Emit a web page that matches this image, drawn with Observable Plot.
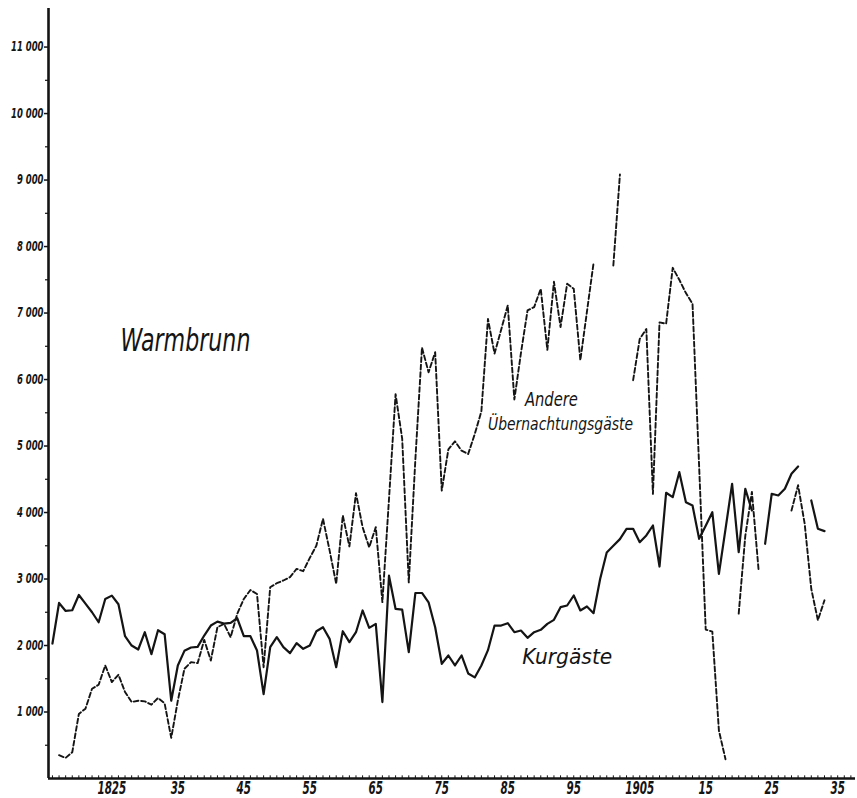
<!DOCTYPE html>
<html><head><meta charset="utf-8">
<script src="https://cdn.jsdelivr.net/npm/d3@7"></script>
<script src="https://cdn.jsdelivr.net/npm/@observablehq/plot@0.6"></script>
<style>
html,body{margin:0;padding:0;background:#fff;}
#chart svg{display:block;}
</style></head><body><div id="chart"></div>
<script>
const firstYear = 1816;
// Kurgäste (solid line), one value per year from 1816
const kurgaeste = [
2030,2640,2520,2530,2760,2630,2500,2350,2700,2750, // 1816-1825
2620,2140,2000,1940,2200,1870,2230,2170,1170,1700, // 1826-1835
1920,1970,1980,2150,2300,2360,2330,2340,2410,2140, // 1836-1845
2140,1925,1270,1975,2125,1975,1885,2035,1950,2000, // 1846-1855
2215,2275,2100,1674,2215,2050,2200,2527,2266,2326, // 1856-1865
1150,3050,2550,2540,1900,2790,2790,2650,2275,1725, // 1866-1875
1850,1700,1850,1580,1520,1700,1930,2300,2300,2336, // 1876-1885
2200,2226,2116,2200,2236,2326,2386,2577,2602,2752, // 1886-1895
2527,2587,2486,3000,3400,3500,3600,3755,3755,3554, // 1896-1905
3655,3805,3188,4297,4231,4607,4156,4106,3605,3800, // 1906-1915
4005,3078,3750,4432,3403,4357,4030,null,3530,4282, // 1916-1925
4256,4357,4583,4692,null,4181,3755,3720            // 1926-1933
];
// Andere Übernachtungsgäste (dashed line), one value per year from 1816
const andere = [
null,350,310,395,970,1050,1350,1410,1700,1450,       // 1816-1825
1560,1300,1150,1170,1160,1110,1210,1130,610,1170,    // 1826-1835
1650,1750,1735,2085,1775,2275,2326,2125,2476,2700,   // 1836-1845
2835,2775,1674,2877,2937,2978,3028,3153,3118,3318,   // 1846-1855
3504,3905,3430,2928,3955,3490,4291,3780,3477,3780,   // 1856-1865
2652,4200,5780,5110,2950,4800,6480,6110,6410,4330,   // 1866-1875
4950,5070,4930,4880,5180,5520,6910,6390,6750,7115,   // 1876-1885
5700,6400,7040,7090,7365,6446,7470,6790,7440,7365,   // 1886-1895
6290,7020,7750,null,null,7715,9084,null,5990,6610,   // 1896-1905
6760,4280,6860,6840,7680,7500,7300,7140,4700,2240,   // 1906-1915
2210,720,290,null,2480,3650,4310,3150,null,null,     // 1916-1925
null,null,4030,4410,3830,2850,2380,2680              // 1926-1933
];
const yTickValues = [1000,2000,3000,4000,5000,6000,7000,8000,9000,10000,11000];
const xTickYears = [1825,1835,1845,1855,1865,1875,1885,1895,1905,1915,1925,1935];
const xTickLabels = ["1825","35","45","55","65","75","85","95","1905","15","25","35"];
const annotations = [
  {text: "Warmbrunn", year: 1826.3, value: 6590},
  {text: "Andere", year: 1887.6, value: 5700},
  {text: "Übernachtungsgäste", year: 1882.0, value: 5330},
  {text: "Kurgäste", year: 1887.2, value: 1820}
];
// lettering style (font size, drawn width in px) per annotation
const annotationStyle = new Map([
  ["Warmbrunn", {size: 32, width: 130}],
  ["Andere", {size: 19, width: 53}],
  ["Übernachtungsgäste", {size: 18, width: 145}],
  ["Kurgäste", {size: 21, width: 90}]
]);

const years = kurgaeste.map((_, i) => firstYear + i);
const rows = years.map((year, i) => ({year, kur: kurgaeste[i], andere: andere[i]}));
const xLabelOf = new Map(xTickYears.map((y, i) => [y, xTickLabels[i]]));
const fmtY = d => d3.format(",")(d).replace(",", " ");
const font = "'DejaVu Sans Condensed', 'Liberation Sans', sans-serif";
const ink = "#141414";
const xDomain = [1815.4, 1937.7];
const yDomain = [0, 11580];

const chart = Plot.plot({
  width: 857, height: 798,
  marginLeft: 48, marginRight: 2, marginTop: 8, marginBottom: 20,
  x: {domain: xDomain, label: null},
  y: {domain: yDomain, label: null},
  style: {fontFamily: font, background: "#fff", color: ink, overflow: "visible"},
  marks: [
    Plot.line(rows, {x: "year", y: "andere", stroke: ink, strokeWidth: 1.9, strokeDasharray: "4.8,2.7"}),
    Plot.line(rows, {x: "year", y: "kur", stroke: ink, strokeWidth: 2.2}),
    // minor year ticks on the x axis
    Plot.ruleX(d3.range(1816, 1938), {y1: 0, y2: 40, stroke: ink, strokeWidth: 1}),
    Plot.axisY(d3.range(500, 11500, 1000), {tickSize: 3, tickFormat: () => "", stroke: ink, strokeWidth: 1.2}),
    Plot.axisY(yTickValues, {tickSize: 4, tickPadding: 1, tickFormat: fmtY, fontSize: 13.5, fontStyle: "italic", fontWeight: "bold", stroke: ink, strokeWidth: 1.5}),
    Plot.axisX(xTickYears, {tickSize: 0, tickPadding: 3, tickFormat: d => xLabelOf.get(d), fontSize: 18, fontStyle: "italic", fontWeight: "bold"}),
    Plot.ruleY([0], {stroke: ink, strokeWidth: 2.6}),
    Plot.ruleX([xDomain[0]], {y1: yDomain[0], y2: yDomain[1], stroke: ink, strokeWidth: 2.6}),
    ...annotations.map(a => Plot.text([a], {x: "year", y: "value", text: "text", textAnchor: "start", fontSize: annotationStyle.get(a.text).size, fontStyle: "italic", fill: ink}))
  ]
});
document.getElementById("chart").append(chart);

// narrow, hand-lettered look: compress glyphs horizontally
function squeeze(selector, factor) {
  d3.select(chart).selectAll(selector).each(function () {
    const w = this.getComputedTextLength();
    if (w > 0) {
      this.setAttribute("textLength", (w * factor).toFixed(1));
      this.setAttribute("lengthAdjust", "spacingAndGlyphs");
    }
  });
}
squeeze("g[aria-label='y-axis tick label'] text", 0.7);
squeeze("g[aria-label='x-axis tick label'] text", 0.64);
d3.select(chart).selectAll("g[aria-label='text'] text").each(function () {
  const st = annotationStyle.get(this.textContent);
  if (st) {
    this.setAttribute("textLength", st.width);
    this.setAttribute("lengthAdjust", "spacingAndGlyphs");
  }
});
</script>
</body></html>
